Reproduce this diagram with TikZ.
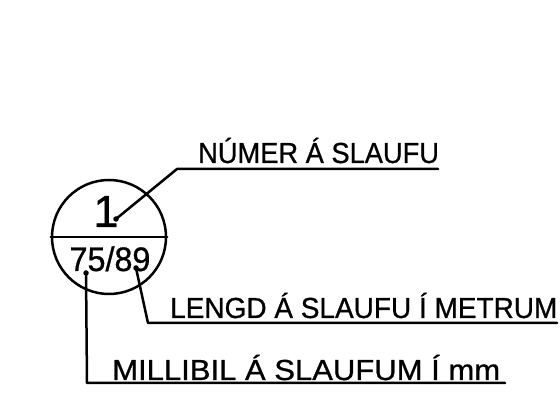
\documentclass[tikz,border=0pt]{standalone}
\usepackage{fontspec}
\setmainfont{Liberation Sans}
\newfontfamily\cadfont{Liberation Sans}[FakeBold=0.8]
\begin{document}
\begin{tikzpicture}[x=1pt,y=-1pt,
  ln/.style={line width=2.5pt,line cap=round,line join=round},
  lbl/.style={anchor=base west,inner sep=0pt,font=\cadfont\fontsize{29}{29}\selectfont},
  dotp/.style={circle,fill=black,inner sep=0pt,minimum size=5.5pt}]
\useasboundingbox (0,0) rectangle (560,395);
% symbol
\node[circle,draw,ln,minimum size=114pt,inner sep=0pt] (c) at (109,237) {};
\draw[ln] (c.west) -- (c.east);
\node[anchor=base,inner sep=0pt,font=\cadfont\fontsize{45}{45}\selectfont] (one) at (106,227) {1};
\node[anchor=base,inner sep=0pt,font=\cadfont\fontsize{34}{34}\selectfont] (num) at (110,271) {\scalebox{0.95}[1]{75/89}};
% dots
\node[dotp] (d1) at (116,219) {};
\node[dotp] (d2) at (86,273) {};
\node[dotp] (d3) at (136,268) {};
% labels
\node[lbl] (t1) at (198,163) {\scalebox{0.94}[1]{NÚMER Á SLAUFU}};
\node[lbl] (t2) at (170,318) {\scalebox{0.965}[1]{LENGD Á SLAUFU Í METRUM}};
\node[lbl] (t3) at (112,380) {\scalebox{1.07}[1]{MILLIBIL Á SLAUFUM Í mm}};
% leader corners
\coordinate (k1) at (177,169);
\coordinate (e1) at (438,169);
\coordinate (k2) at (148,323);
\coordinate (e2) at (557,323);
\coordinate (k3) at (87,383);
\coordinate (e3) at (505,383);
\draw[ln] (d1.center) -- (k1) -- (e1);
\draw[ln] (d3.center) -- (k2) -- (e2);
\draw[ln] (d2.center) -- (k3) -- (e3);
\end{tikzpicture}
\end{document}
